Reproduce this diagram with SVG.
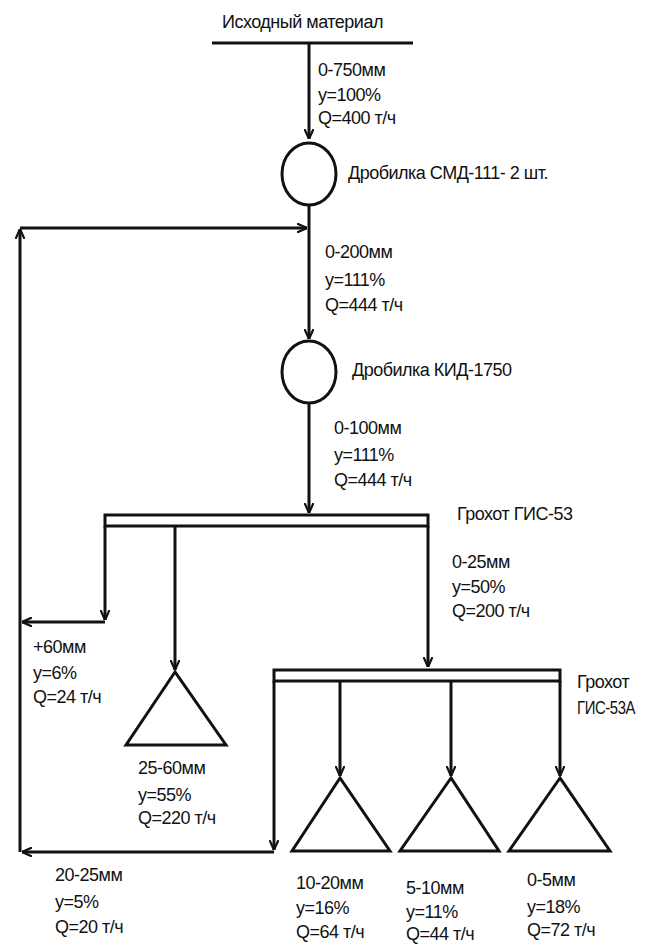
<svg xmlns="http://www.w3.org/2000/svg" width="646" height="944" viewBox="0 0 646 944">
<style>
text{font-family:"Liberation Sans",Arial,sans-serif;font-size:18px;fill:#111;letter-spacing:-0.5px}
.ln{stroke:#111;stroke-width:3;fill:none}
.nd{stroke:#111;stroke-width:3;fill:#fff}
</style>
<defs>
<marker id="arr" viewBox="0 0 10 10" refX="10" refY="5" markerWidth="10" markerHeight="10" markerUnits="userSpaceOnUse" orient="auto">
<path d="M0,0.5 L10,5 L0,9.5" fill="none" stroke="#111" stroke-width="2.2"/>
</marker>
</defs>
<rect width="646" height="944" fill="#fff"/>
<g id="connectors">
<path class="ln" d="M212,43 H413"/>
<path class="ln" d="M309,43 V139" marker-end="url(#arr)"/>
<path class="ln" d="M309,206 V339" marker-end="url(#arr)"/>
<path class="ln" d="M20,852 V229" marker-end="url(#arr)"/>
<path class="ln" d="M20,228 H307" marker-end="url(#arr)"/>
<path class="ln" d="M309,403 V513" marker-end="url(#arr)"/>
<path class="ln" d="M105,526 V620" marker-end="url(#arr)"/>
<path class="ln" d="M105,622 H22" marker-end="url(#arr)"/>
<path class="ln" d="M175,526 V670" marker-end="url(#arr)"/>
<path class="ln" d="M428,526 V667" marker-end="url(#arr)"/>
<path class="ln" d="M274,681 V850" marker-end="url(#arr)"/>
<path class="ln" d="M274,852 H22" marker-end="url(#arr)"/>
<path class="ln" d="M340,681 V776" marker-end="url(#arr)"/>
<path class="ln" d="M451,681 V776" marker-end="url(#arr)"/>
<path class="ln" d="M560,681 V776" marker-end="url(#arr)"/>
</g>
<g id="source">
<text x="222" y="28">Исходный материал</text>
<text x="318" y="76">0-750мм</text>
<text x="318" y="101">y=100%</text>
<text x="318" y="124">Q=400 т/ч</text>
</g>
<g id="crusher1">
<ellipse class="nd" cx="309" cy="174" rx="27" ry="31"/>
<text x="348" y="179">Дробилка СМД-111- 2 шт.</text>
</g>
<g id="flow2">
<text x="325" y="258">0-200мм</text>
<text x="325" y="286">y=111%</text>
<text x="325" y="311">Q=444 т/ч</text>
</g>
<g id="crusher2">
<ellipse class="nd" cx="309" cy="372" rx="27" ry="31"/>
<text x="352" y="376">Дробилка КИД-1750</text>
</g>
<g id="flow3">
<text x="334" y="434">0-100мм</text>
<text x="334" y="461">y=111%</text>
<text x="334" y="486">Q=444 т/ч</text>
</g>
<g id="screen1">
<rect class="nd" x="105" y="515" width="323" height="11"/>
<text x="457" y="520">Грохот ГИС-53</text>
</g>
<g id="oversize">
<text x="33" y="653">+60мм</text>
<text x="33" y="679">y=6%</text>
<text x="33" y="703">Q=24 т/ч</text>
</g>
<g id="product2560">
<path class="nd" d="M175,672 L126,745 L226,745 Z"/>
<text x="138" y="774">25-60мм</text>
<text x="138" y="801">y=55%</text>
<text x="138" y="824">Q=220 т/ч</text>
</g>
<g id="flow025">
<text x="452" y="568">0-25мм</text>
<text x="452" y="593">y=50%</text>
<text x="452" y="617">Q=200 т/ч</text>
</g>
<g id="screen2">
<rect class="nd" x="274" y="670" width="286" height="11"/>
<text x="577" y="688">Грохот</text>
<text x="577" y="714" textLength="58" lengthAdjust="spacingAndGlyphs">ГИС-53А</text>
</g>
<g id="recycle2025">
<text x="55" y="881">20-25мм</text>
<text x="55" y="908">y=5%</text>
<text x="55" y="933">Q=20 т/ч</text>
</g>
<g id="product1020">
<path class="nd" d="M340,778 L292,851 L390,851 Z"/>
<text x="296" y="889">10-20мм</text>
<text x="296" y="914">y=16%</text>
<text x="296" y="938">Q=64 т/ч</text>
</g>
<g id="product510">
<path class="nd" d="M451,778 L400,851 L499,851 Z"/>
<text x="406" y="894">5-10мм</text>
<text x="406" y="918">y=11%</text>
<text x="406" y="940">Q=44 т/ч</text>
</g>
<g id="product05">
<path class="nd" d="M560,778 L509,851 L610,851 Z"/>
<text x="527" y="886">0-5мм</text>
<text x="527" y="913">y=18%</text>
<text x="527" y="936">Q=72 т/ч</text>
</g>
</svg>
